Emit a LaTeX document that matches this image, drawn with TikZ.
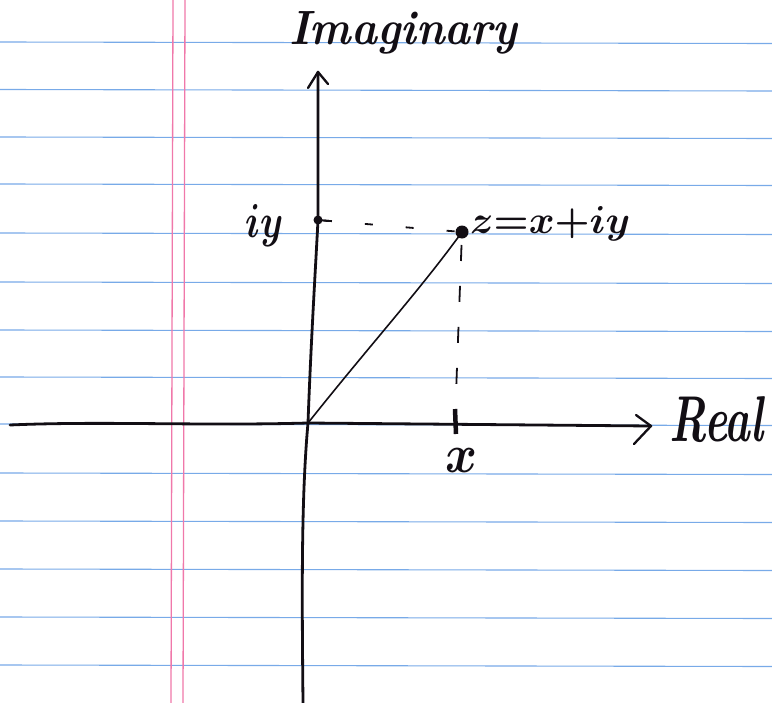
\documentclass[tikz,border=0pt]{standalone}
\usetikzlibrary{arrows.meta}
\definecolor{rule}{RGB}{120,170,232}
\definecolor{margin}{RGB}{240,120,170}
\definecolor{ink}{RGB}{18,14,20}
\tikzset{
  ruleline/.style={rule, line width=1.1bp},
  marginline/.style={margin, line width=1.3bp},
  axis/.style={ink, line width=2.8bp, line cap=round, line join=round},
  arrowhead/.style={ink, line width=2.3bp, line cap=round, line join=round},
  guide/.style={ink, line width=1.8bp, dash pattern=on 16bp off 25bp},
  radius line/.style={ink, line width=1.6bp},
  hand/.style={inner sep=0pt, text=ink},
}
\begin{document}
\begin{tikzpicture}[x=1bp, y=-1bp]
\useasboundingbox (0,0) rectangle (772,703);
\fill[white] (0,0) rectangle (772,703);
% ruled lines
\foreach \yy in {42,89.5,137,184,233,282,330,377,424,473,521,569,617,665}
  \draw[ruleline] (0,\yy) -- (772,\yy+1.5);
% margin lines
\draw[marginline] (173,0) -- (171,703);
\draw[marginline] (185,0) -- (183,703);

% key points
\coordinate (O) at (308,423);
\coordinate (ytop) at (318,72);
\coordinate (ybot) at (303,703);
\coordinate (xleft) at (10,425);
\coordinate (xtip) at (651,426);
\coordinate (iy) at (318,220);
\coordinate (z) at (462,232);
\coordinate (xt) at (455,421);

% axes
\draw[axis] (ybot) .. controls (302,600) and (301,500) .. (O)
  .. controls (311,340) and (316,260) .. (iy) -- (ytop);
\draw[axis] (xleft) .. controls (100,421) and (200,426) .. (O) -- (xtip);
\draw[arrowhead] (308,88) -- (ytop) -- (328,84);
\draw[arrowhead] (636,415) -- (xtip) -- (634,444);

% radius line
\draw[radius line] (O) .. controls (370,345) and (420,290) .. (z);

% dashed guides
\draw[guide, dash pattern=on 8bp off 33bp, shorten <=6bp, shorten >=7bp] (iy) -- (z);
\draw[guide, shorten <=13bp, shorten >=16bp] (z) -- (xt);

% points and tick
\fill[ink] (iy) circle (4.5bp);
\draw[ink, line width=2bp] (iy) -- (329,221);
\fill[ink] (z) circle (6.5bp);
\draw[ink, line width=4.5bp] (455,409) -- (456,434);

% labels
\node[hand, anchor=base west] (lIm) at (289,45) {\resizebox{228bp}{33bp}{\bfseries\itshape Imaginary}};
\node[hand, anchor=base west] (lRe) at (669,441) {\resizebox{94bp}{45bp}{\bfseries\itshape Real}};
\node[hand, anchor=base west] (liy) at (245,237) {\resizebox{38bp}{33bp}{\boldmath$iy$}};
\node[hand, anchor=base west] (lz) at (470,233) {\resizebox{160bp}{27bp}{\boldmath$z{=}x{+}iy$}};
\node[hand, anchor=base] (lx) at (461,472) {\resizebox{32bp}{24bp}{\boldmath$x$}};
\end{tikzpicture}
\end{document}
